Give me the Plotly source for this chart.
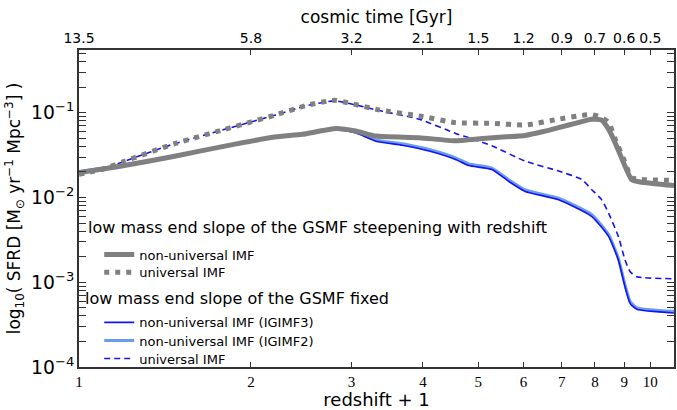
import plotly.graph_objects as go
import math

# ---- data (redshift + 1 , SFRD) ----
zp1_nu_steep = [1.0, 1.2, 1.47, 1.8, 2.2, 2.46, 2.82, 3.05, 3.31, 3.94, 4.56, 5.3, 6.04, 6.5, 6.91, 7.5, 7.89, 8.21, 8.45, 8.68, 9.03, 9.27, 9.6, 11.0]
sfrd_nu_steep = [0.0196, 0.0238, 0.0307, 0.0404, 0.0516, 0.0556, 0.065, 0.0608, 0.053, 0.0508, 0.0466, 0.0508, 0.054, 0.060, 0.0667, 0.077, 0.0838, 0.082, 0.064, 0.044, 0.0234, 0.0163, 0.0152, 0.0138]

zp1_u_steep = [1.0, 1.1, 1.2, 1.47, 1.8, 2.2, 2.5, 2.8, 3.0, 3.35, 3.94, 4.56, 5.29, 6.04, 6.91, 7.6, 7.89, 8.21, 8.45, 8.68, 9.03, 9.27, 11.0]
sfrd_u_steep = [0.0188, 0.0215, 0.0267, 0.0431, 0.0637, 0.0934, 0.122, 0.14, 0.128, 0.108, 0.0917, 0.0764, 0.075, 0.0716, 0.084, 0.093, 0.095, 0.088, 0.077, 0.0485, 0.026, 0.0172, 0.016]

zp1_igimf3 = [1.0, 1.2, 1.47, 1.8, 2.2, 2.46, 2.82, 3.05, 3.31, 3.68, 4.1, 4.56, 4.81, 5.28, 5.65, 6.04, 6.91, 7.89, 8.45, 8.79, 9.03, 9.22, 9.47, 11.0]
sfrd_igimf3 = [0.0203, 0.0242, 0.031, 0.0404, 0.0516, 0.0556, 0.064, 0.058, 0.0462, 0.0413, 0.0353, 0.0281, 0.0238, 0.0214, 0.0155, 0.0118, 0.0094, 0.0060, 0.00347, 0.00183, 0.00088, 0.00056, 0.00048, 0.000434]

zp1_igimf2 = [1.0, 1.2, 1.47, 1.8, 2.2, 2.46, 2.82, 3.05, 3.31, 3.68, 4.1, 4.56, 4.81, 5.28, 5.65, 6.04, 6.91, 7.89, 8.45, 8.79, 9.03, 9.22, 9.47, 11.0]
sfrd_igimf2 = [0.0203, 0.0242, 0.031, 0.0404, 0.0516, 0.0556, 0.064, 0.059, 0.0478, 0.043, 0.0368, 0.0294, 0.0249, 0.0222, 0.0162, 0.0123, 0.0098, 0.0063, 0.00365, 0.00192, 0.00093, 0.00059, 0.00050, 0.000455]

zp1_u_fixed = [1.0, 1.1, 1.2, 1.47, 1.8, 2.2, 2.5, 2.8, 3.0, 3.35, 3.94, 4.56, 4.81, 5.29, 6.04, 6.91, 7.59, 7.89, 8.21, 8.45, 8.79, 9.03, 9.22, 9.47, 11.0]
sfrd_u_fixed = [0.0188, 0.0215, 0.0267, 0.0431, 0.0637, 0.0934, 0.121, 0.138, 0.127, 0.106, 0.084, 0.057, 0.0508, 0.0404, 0.0268, 0.0205, 0.0163, 0.0124, 0.0095, 0.00655, 0.00347, 0.00183, 0.00133, 0.00116, 0.0011]

bottom_ticks = [1, 2, 3, 4, 5, 6, 7, 8, 9, 10]
top_tick_labels = ["13.5", "5.8", "3.2", "2.1", "1.5", "1.2", "0.9", "0.7", "0.6", "0.5"]

legend1_title = "low mass end slope of the GSMF steepening with redshift"
legend2_title = "low mass end slope of the GSMF fixed"

GRAY = "#808080"
BLUE = "#1414f0"
LBLUE = "#6a9cf0"
SM = 0.5

fig = go.Figure()

fig.add_trace(go.Scatter(x=zp1_igimf2, y=sfrd_igimf2, mode="lines", name="non-universal IMF (IGIMF2)",
                         line=dict(color=LBLUE, width=3, shape="spline", smoothing=SM), legend="legend4"))
fig.add_trace(go.Scatter(x=zp1_igimf3, y=sfrd_igimf3, mode="lines", name="non-universal IMF (IGIMF3)",
                         line=dict(color=BLUE, width=1.6, shape="spline", smoothing=SM), legend="legend3"))
fig.add_trace(go.Scatter(x=zp1_u_fixed, y=sfrd_u_fixed, mode="lines", name="universal IMF",
                         line=dict(color=BLUE, width=1.6, dash="6px,4px", shape="spline", smoothing=SM), legend="legend5"))
fig.add_trace(go.Scatter(x=zp1_nu_steep, y=sfrd_nu_steep, mode="lines", name="non-universal IMF",
                         line=dict(color=GRAY, width=5, shape="spline", smoothing=SM), legend="legend"))
fig.add_trace(go.Scatter(x=zp1_u_steep, y=sfrd_u_steep, mode="lines", name="universal IMF",
                         line=dict(color=GRAY, width=5, dash="5px,6px", shape="spline", smoothing=SM), legend="legend2"))
# invisible trace to activate top axis
fig.add_trace(go.Scatter(x=[1, 10], y=[0.01, 0.01], xaxis="x2", mode="lines", line=dict(width=0),
                         showlegend=False, hoverinfo="skip", opacity=0))

xr = [0, math.log10(11.0)]
axis_col = "#333333"


def leg(y):
    return dict(x=0.034, y=y, xanchor="left", yanchor="top", bgcolor="rgba(0,0,0,0)", font=dict(size=13))


fig.update_layout(
    width=677, height=410,
    margin=dict(l=79, r=1, t=50, b=43),
    plot_bgcolor="white", paper_bgcolor="white",
    font=dict(family="DejaVu Sans", color="black"),
    xaxis=dict(type="log", range=xr, tickvals=bottom_ticks, ticktext=[str(t) for t in bottom_ticks],
               ticks="inside", ticklen=5, tickcolor=axis_col, showline=True, linecolor=axis_col, linewidth=1.5,
               showgrid=False, zeroline=False, tickfont=dict(family="Liberation Serif", size=15),
               title=dict(text="redshift + 1", font=dict(size=18), standoff=3), automargin=False),
    xaxis2=dict(type="log", range=xr, overlaying="x", side="top", tickvals=bottom_ticks, ticktext=top_tick_labels,
                ticks="inside", ticklen=5, tickcolor=axis_col, showline=True, linecolor=axis_col, linewidth=1.5,
                showgrid=False, zeroline=False, tickfont=dict(size=14),
                title=dict(text="cosmic time [Gyr]", font=dict(size=17), standoff=2)),
    yaxis=dict(type="log", range=[-4, -0.26], dtick=1, exponentformat="power",
               ticks="inside", ticklen=7, tickcolor=axis_col, showline=True, linecolor=axis_col, linewidth=1.5,
               mirror="allticks", showgrid=False, zeroline=False, tickfont=dict(size=15),
               minor=dict(ticks="inside", ticklen=3, dtick="D1", tickcolor=axis_col, showgrid=False),
               title=dict(text="log<sub>10</sub>( SFRD [M<sub>⊙</sub> yr<sup>−1</sup> Mpc<sup>−3</sup>] )",
                          font=dict(size=17), standoff=6)),
    legend=leg(0.402),
    legend2=leg(0.346),
    legend3=leg(0.188),
    legend4=leg(0.131),
    legend5=leg(0.074),
    annotations=[
        dict(text=legend1_title, xref="paper", yref="paper", x=0.012, y=0.44, xanchor="left", yanchor="middle",
             showarrow=False, font=dict(size=16)),
        dict(text=legend2_title, xref="paper", yref="paper", x=0.007, y=0.216, xanchor="left", yanchor="middle",
             showarrow=False, font=dict(size=16)),
    ],
    showlegend=True,
)

fig.write_html("out.html")
